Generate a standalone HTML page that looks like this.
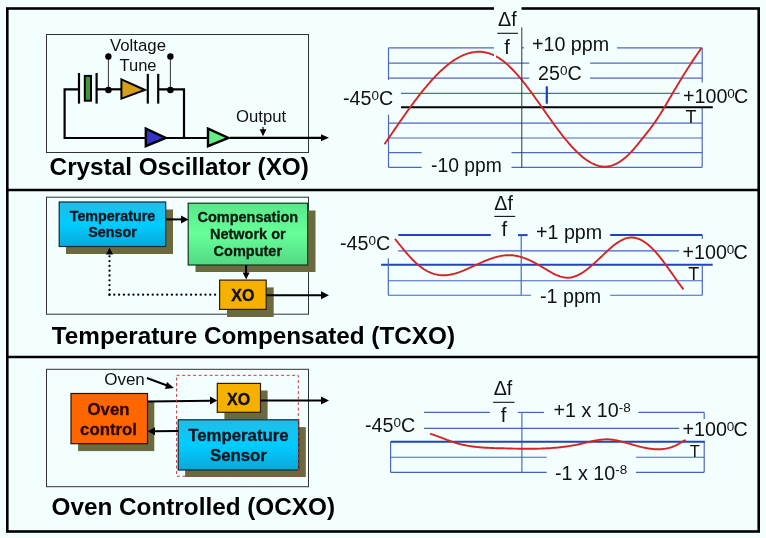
<!DOCTYPE html>
<html><head><meta charset="utf-8">
<style>
html,body{margin:0;padding:0;background:#f3ffff;}
svg{display:block;will-change:transform;}
text{font-family:"Liberation Sans",sans-serif;}
</style></head>
<body>
<svg width="766" height="538" viewBox="0 0 766 538">
<defs>
  <linearGradient id="gCyan" x1="0" y1="0" x2="0" y2="1">
    <stop offset="0" stop-color="#22bce6"/><stop offset="0.5" stop-color="#00ccff"/><stop offset="1" stop-color="#0aa8d8"/>
  </linearGradient>
  <linearGradient id="gGreen" x1="0" y1="0" x2="0" y2="1">
    <stop offset="0" stop-color="#5ae68a"/><stop offset="0.5" stop-color="#66ff99"/><stop offset="1" stop-color="#52d884"/>
  </linearGradient>
  <marker id="ah" viewBox="0 0 10 10" refX="10" refY="5" markerWidth="4" markerHeight="4" orient="auto"><path d="M0,0 L10,5 L0,10 z" fill="#000"/></marker>
</defs>
<rect x="0" y="0" width="766" height="538" fill="#f3ffff"/>
<!-- outer frame -->
<rect x="7.3" y="8.5" width="751.4" height="523" fill="none" stroke="#000" stroke-width="2.6"/>
<line x1="6" y1="190" x2="760" y2="190" stroke="#000" stroke-width="2.4"/>
<line x1="6" y1="357" x2="760" y2="357" stroke="#000" stroke-width="2.4"/>

<!-- ============ PANEL 1 ============ -->
<rect x="46.5" y="34.5" width="262" height="118" fill="none" stroke="#333" stroke-width="1"/>
<text x="110" y="51" font-size="16.8" fill="#111">Voltage</text>
<text x="119.5" y="70.5" font-size="16.5" fill="#111">Tune</text>
<g stroke="#000" stroke-width="2.2" fill="none">
  <polyline points="79,89.3 64.6,89.3 64.6,138 145,138"/>
  <line x1="79" y1="73" x2="79" y2="103.6"/>
  <line x1="96.6" y1="73" x2="96.6" y2="103.6"/>
  <line x1="96.6" y1="89.3" x2="121" y2="89.3"/>
  <line x1="147.8" y1="73.9" x2="147.8" y2="103.6"/>
  <line x1="158.2" y1="73.9" x2="158.2" y2="103.6"/>
  <polyline points="158.2,89.3 184,89.3 184,138"/><line x1="165" y1="138" x2="208" y2="138"/>
  <line x1="230" y1="137.8" x2="322" y2="137.8"/>
</g>
<path d="M321,134.3 L329,137.8 L321,141.3 z" fill="#000"/>
<rect x="84.8" y="75.9" width="6.2" height="24.8" fill="#3a9a3a" stroke="#000" stroke-width="2"/>
<path d="M121.4,79.4 L145,90 L121.4,98.6 z" fill="#d69e1a" stroke="#000" stroke-width="2"/>
<line x1="108.4" y1="56.5" x2="108.4" y2="90" stroke="#333" stroke-width="1"/>
<line x1="170.4" y1="56.5" x2="170.4" y2="90" stroke="#333" stroke-width="1"/>
<circle cx="108.4" cy="56.5" r="3.2" fill="#000"/>
<circle cx="170.4" cy="56.5" r="3.2" fill="#000"/>
<circle cx="108.4" cy="90" r="3.3" fill="#000"/>
<circle cx="170.4" cy="90" r="3.3" fill="#000"/>
<path d="M145.8,128.7 L165.8,137.9 L145.8,146.2 z" fill="#3333cc" stroke="#000" stroke-width="2.4"/>
<path d="M208,128.7 L228.4,137.9 L208,146.2 z" fill="#66ee88" stroke="#000" stroke-width="2.4"/>
<text x="236" y="121.8" font-size="16.7" fill="#111">Output</text>
<line x1="263" y1="127" x2="263" y2="130" stroke="#000" stroke-width="1.2"/>
<path d="M259.6,129.2 L266.4,129.2 L263,136.2 z" fill="#000"/>
<text x="49.6" y="175" font-size="24.3" font-weight="bold" fill="#000">Crystal Oscillator (XO)</text>

<!-- graph 1 -->
<g stroke="#5068b8" stroke-width="1.2" fill="none">
  <line x1="388.5" y1="47.8" x2="494" y2="47.8"/>
  <line x1="521.8" y1="47.8" x2="524" y2="47.8"/>
  <line x1="617" y1="47.8" x2="702.2" y2="47.8"/>
  <line x1="388.5" y1="63.1" x2="529.3" y2="63.1"/>
  <line x1="590" y1="63.1" x2="702.2" y2="63.1"/>
  <line x1="388.5" y1="78.1" x2="529.3" y2="78.1"/>
  <line x1="590" y1="78.1" x2="702.2" y2="78.1"/>
  <line x1="401" y1="93.3" x2="679.7" y2="93.3"/>
  <line x1="388.5" y1="123.1" x2="702.2" y2="123.1"/>
  <line x1="388.5" y1="138" x2="702.2" y2="138"/>
  <line x1="388.5" y1="152.6" x2="421.7" y2="152.6"/>
  <line x1="511.5" y1="152.6" x2="702.2" y2="152.6"/>
  <line x1="388.5" y1="167.3" x2="421.7" y2="167.3"/>
  <line x1="511.5" y1="167.3" x2="702.2" y2="167.3"/>
  <line x1="388.5" y1="47.8" x2="388.5" y2="79.9"/>
  <line x1="388.5" y1="114.7" x2="388.5" y2="167.3"/>
  <line x1="702.2" y1="47.8" x2="702.2" y2="82.6"/>
  <line x1="702.2" y1="107.3" x2="702.2" y2="167.3"/>
</g>
<line x1="401" y1="107.3" x2="712.8" y2="107.3" stroke="#000" stroke-width="2"/>
<line x1="546.8" y1="86.3" x2="546.8" y2="103.7" stroke="#1a3fc0" stroke-width="2.2"/>
<path d="M384.5,144.3 L385.5,142.8 L386.5,141.3 L387.5,139.9 L388.5,138.4 L389.5,136.9 L390.5,135.4 L391.5,134.0 L392.5,132.5 L393.5,131.1 L394.5,129.6 L395.5,128.1 L396.5,126.7 L397.5,125.2 L398.5,123.8 L399.5,122.3 L400.5,120.9 L401.5,119.5 L402.5,118.0 L403.5,116.6 L404.5,115.2 L405.5,113.8 L406.5,112.4 L407.5,111.0 L408.5,109.6 L409.5,108.2 L410.5,106.8 L411.5,105.5 L412.5,104.1 L413.5,102.8 L414.5,101.4 L415.5,100.1 L416.5,98.8 L417.5,97.5 L418.5,96.2 L419.5,94.9 L420.5,93.6 L421.5,92.4 L422.5,91.1 L423.5,89.9 L424.5,88.7 L425.5,87.5 L426.5,86.3 L427.5,85.1 L428.5,83.9 L429.5,82.8 L430.5,81.6 L431.5,80.5 L432.5,79.4 L433.5,78.3 L434.5,77.3 L435.5,76.2 L436.5,75.2 L437.5,74.2 L438.5,73.2 L439.5,72.2 L440.5,71.2 L441.5,70.3 L442.5,69.4 L443.5,68.4 L444.5,67.6 L445.5,66.7 L446.5,65.9 L447.5,65.0 L448.5,64.2 L449.5,63.5 L450.5,62.7 L451.5,62.0 L452.5,61.3 L453.5,60.6 L454.5,59.9 L455.5,59.3 L456.5,58.7 L457.5,58.1 L458.5,57.5 L459.5,57.0 L460.5,56.5 L461.5,56.0 L462.5,55.5 L463.5,55.1 L464.5,54.7 L465.5,54.3 L466.5,53.9 L467.5,53.6 L468.5,53.3 L469.5,53.0 L470.5,52.8 L471.5,52.5 L472.5,52.4 L473.5,52.2 L474.5,52.1 L475.5,51.9 L476.5,51.9 L477.5,51.8 L478.5,51.8 L479.5,51.8 L480.5,51.8 L481.5,51.9 L482.5,52.0 L483.5,52.1 L484.5,52.3 L485.5,52.5 L486.5,52.7 L487.5,52.9 L488.5,53.2 L489.5,53.5 L490.5,53.9 L491.5,54.2 L492.5,54.6 L493.5,55.1 L494.5,55.5 L495.5,56.1 L496.5,56.6 L497.5,57.2 L498.5,57.8 L499.5,58.4 L500.5,59.1 L501.5,59.8 L502.5,60.5 L503.5,61.3 L504.5,62.1 L505.5,62.9 L506.5,63.8 L507.5,64.6 L508.5,65.6 L509.5,66.5 L510.5,67.5 L511.5,68.5 L512.5,69.5 L513.5,70.5 L514.5,71.6 L515.5,72.7 L516.5,73.8 L517.5,74.9 L518.5,76.1 L519.5,77.3 L520.5,78.5 L521.5,79.7 L522.5,80.9 L523.5,82.2 L524.5,83.4 L525.5,84.7 L526.5,86.0 L527.5,87.3 L528.5,88.6 L529.5,90.0 L530.5,91.3 L531.5,92.7 L532.5,94.0 L533.5,95.4 L534.5,96.8 L535.5,98.2 L536.5,99.6 L537.5,101.0 L538.5,102.4 L539.5,103.8 L540.5,105.3 L541.5,106.7 L542.5,108.1 L543.5,109.5 L544.5,110.9 L545.5,112.4 L546.5,113.8 L547.5,115.2 L548.5,116.6 L549.5,118.0 L550.5,119.4 L551.5,120.8 L552.5,122.2 L553.5,123.6 L554.5,125.0 L555.5,126.3 L556.5,127.7 L557.5,129.0 L558.5,130.4 L559.5,131.7 L560.5,133.0 L561.5,134.3 L562.5,135.6 L563.5,136.8 L564.5,138.1 L565.5,139.3 L566.5,140.5 L567.5,141.7 L568.5,142.9 L569.5,144.0 L570.5,145.1 L571.5,146.3 L572.5,147.4 L573.5,148.4 L574.5,149.5 L575.5,150.5 L576.5,151.5 L577.5,152.5 L578.5,153.4 L579.5,154.3 L580.5,155.2 L581.5,156.1 L582.5,156.9 L583.5,157.7 L584.5,158.5 L585.5,159.2 L586.5,160.0 L587.5,160.6 L588.5,161.3 L589.5,161.9 L590.5,162.5 L591.5,163.0 L592.5,163.5 L593.5,164.0 L594.5,164.4 L595.5,164.8 L596.5,165.2 L597.5,165.5 L598.5,165.8 L599.5,166.1 L600.5,166.3 L601.5,166.4 L602.5,166.5 L603.5,166.6 L604.5,166.6 L605.5,166.6 L606.5,166.6 L607.5,166.4 L608.5,166.3 L609.5,166.1 L610.5,165.9 L611.5,165.6 L612.5,165.3 L613.5,164.9 L614.5,164.5 L615.5,164.1 L616.5,163.6 L617.5,163.1 L618.5,162.5 L619.5,161.9 L620.5,161.3 L621.5,160.6 L622.5,159.8 L623.5,159.1 L624.5,158.3 L625.5,157.4 L626.5,156.6 L627.5,155.6 L628.5,154.7 L629.5,153.7 L630.5,152.7 L631.5,151.6 L632.5,150.5 L633.5,149.4 L634.5,148.2 L635.5,147.0 L636.5,145.8 L637.5,144.6 L638.5,143.3 L639.5,142.1 L640.5,140.9 L641.5,139.6 L642.5,138.3 L643.5,137.1 L644.5,135.9 L645.5,134.6 L646.5,133.4 L647.5,132.1 L648.5,130.8 L649.5,129.6 L650.5,128.3 L651.5,126.9 L652.5,125.6 L653.5,124.2 L654.5,122.8 L655.5,121.4 L656.5,119.9 L657.5,118.4 L658.5,116.8 L659.5,115.3 L660.5,113.7 L661.5,112.0 L662.5,110.4 L663.5,108.8 L664.5,107.1 L665.5,105.4 L666.5,103.7 L667.5,102.0 L668.5,100.3 L669.5,98.6 L670.5,96.9 L671.5,95.2 L672.5,93.5 L673.5,91.8 L674.5,90.1 L675.5,88.4 L676.5,86.7 L677.5,85.1 L678.5,83.4 L679.5,81.7 L680.5,80.1 L681.5,78.5 L682.5,76.8 L683.5,75.2 L684.5,73.6 L685.5,72.0 L686.5,70.4 L687.5,68.8 L688.5,67.3 L689.5,65.7 L690.5,64.2 L691.5,62.6 L692.5,61.1 L693.5,59.6 L694.5,58.1 L695.5,56.6 L696.5,55.2 L697.5,53.7 L698.5,52.3 L699.5,50.9 L700.5,49.5 L701.5,48.1" fill="none" stroke="#d42424" stroke-width="1.9" stroke-linejoin="round"/>
<rect x="494" y="52" width="2" height="7" fill="#f3ffff"/>
<rect x="494" y="5" width="27.5" height="49" fill="#f3ffff"/>
<line x1="521.8" y1="27.3" x2="521.8" y2="168" stroke="#333" stroke-width="1"/>
<line x1="497.3" y1="33.3" x2="518" y2="33.3" stroke="#111" stroke-width="1.1"/>
<text x="498" y="25.7" font-size="19.7" fill="#111">Δf</text>
<text x="504.3" y="53.6" font-size="20.3" fill="#111">f</text>
<text x="532" y="50.5" font-size="19.7" fill="#111">+10 ppm</text>
<text x="538" y="80" font-size="19.7" fill="#111">25<tspan font-size="13.5" dy="-5.2">0</tspan><tspan dy="5.2">C</tspan></text>
<text x="343" y="105.2" font-size="19.7" fill="#111">-45<tspan font-size="13.5" dy="-5.2">0</tspan><tspan dy="5.2">C</tspan></text>
<text x="683" y="102.7" font-size="19.7" fill="#111">+100<tspan font-size="13.5" dy="-5.2">0</tspan><tspan dy="5.2" dx="-1">C</tspan></text>
<text x="685.5" y="122.6" font-size="18" fill="#111">T</text>
<text x="431" y="172.2" font-size="19.3" fill="#111">-10 ppm</text>

<!-- ============ PANEL 2 ============ -->
<rect x="46.5" y="197.2" width="262" height="117" fill="none" stroke="#333" stroke-width="1"/>
<rect x="66" y="209.5" width="107" height="44.5" fill="#6b6a3e"/>
<rect x="59.2" y="202" width="106.5" height="44.5" fill="url(#gCyan)" stroke="#0b2a3a" stroke-width="1.2"/>
<text x="112.5" y="221" font-size="14.3" font-weight="bold" fill="#0a1520" stroke="#0a1520" stroke-width="0.3" text-anchor="middle">Temperature</text>
<text x="112.5" y="237.4" font-size="14.3" font-weight="bold" fill="#0a1520" stroke="#0a1520" stroke-width="0.3" text-anchor="middle">Sensor</text>
<rect x="195.5" y="210.5" width="120" height="61.5" fill="#6b6a3e"/>
<rect x="188.2" y="203.2" width="119.4" height="61.8" fill="url(#gGreen)" stroke="#0b3a1a" stroke-width="1.2"/>
<text x="247.8" y="222" font-size="14.5" font-weight="bold" fill="#0a1a10" stroke="#0a1a10" stroke-width="0.3" text-anchor="middle">Compensation</text>
<text x="247.8" y="238.9" font-size="14.5" font-weight="bold" fill="#0a1a10" stroke="#0a1a10" stroke-width="0.3" text-anchor="middle">Network or</text>
<text x="247.8" y="256.2" font-size="14.5" font-weight="bold" fill="#0a1a10" stroke="#0a1a10" stroke-width="0.3" text-anchor="middle">Computer</text>
<line x1="165.7" y1="219.4" x2="182" y2="219.4" stroke="#000" stroke-width="2"/>
<path d="M181,215.4 L188.5,219.4 L181,223.4 z" fill="#000"/>
<line x1="246.1" y1="265" x2="246.1" y2="273" stroke="#000" stroke-width="2"/>
<path d="M242.6,272.5 L249.6,272.5 L246.1,279.5 z" fill="#000"/>
<rect x="227" y="287.4" width="46.7" height="29.6" fill="#6b6a3e"/>
<rect x="219.6" y="280.1" width="46.6" height="29.3" fill="#f5b000" stroke="#2a2000" stroke-width="1.2"/>
<text x="242.8" y="301.1" font-size="16" font-weight="bold" fill="#111" stroke="#111" stroke-width="0.35" text-anchor="middle">XO</text>
<line x1="266.2" y1="295.3" x2="322" y2="295.3" stroke="#000" stroke-width="2"/>
<path d="M321,291.3 L329,295.3 L321,299.3 z" fill="#000"/>
<g stroke="#000" stroke-width="2.3" stroke-linecap="round" stroke-dasharray="0,4.8" fill="none"><line x1="109.5" y1="294.7" x2="218" y2="294.7"/><line x1="109.5" y1="294.7" x2="109.5" y2="256"/></g>
<path d="M106,254.6 L113,254.6 L109.5,247.8 z" fill="#000"/>
<text x="51.8" y="343.9" font-size="24.3" font-weight="bold" fill="#000">Temperature Compensated (TCXO)</text>

<!-- graph 2 -->
<g stroke="#2244b8" stroke-width="2" fill="none">
  <line x1="398.3" y1="235.1" x2="490.8" y2="235.1"/>
  <line x1="518" y1="235.1" x2="527.6" y2="235.1"/>
  <line x1="610.2" y1="235.1" x2="702.3" y2="235.1"/>
  <line x1="381.1" y1="264.7" x2="712.7" y2="264.7"/>
</g>
<g stroke="#4462c0" stroke-width="1.15" fill="none">
  <line x1="398.3" y1="250.9" x2="679.1" y2="250.9"/>
  <line x1="388.3" y1="280.7" x2="702.3" y2="280.7"/>
  <line x1="388.3" y1="295.2" x2="531" y2="295.2"/>
  <line x1="610.2" y1="295.2" x2="702.3" y2="295.2"/>
  <line x1="388.3" y1="258.5" x2="388.3" y2="295.2"/>
  <line x1="702.3" y1="235.1" x2="702.3" y2="239"/>
  <line x1="702.3" y1="264.7" x2="702.3" y2="295.2"/>
  <line x1="521.2" y1="235.1" x2="521.2" y2="295.2"/>
</g>
<path d="M394.9,238.8 L395.9,240.0 L396.9,241.3 L397.9,242.5 L398.9,243.8 L399.9,245.0 L400.9,246.2 L401.9,247.5 L402.9,248.7 L403.9,249.9 L404.9,251.1 L405.9,252.3 L406.9,253.4 L407.9,254.6 L408.9,255.7 L409.9,256.8 L410.9,257.9 L411.9,259.0 L412.9,260.0 L413.9,261.0 L414.9,262.0 L415.9,262.9 L416.9,263.8 L417.9,264.7 L418.9,265.5 L419.9,266.3 L420.9,267.1 L421.9,267.8 L422.9,268.5 L423.9,269.2 L424.9,269.8 L425.9,270.4 L426.9,271.0 L427.9,271.5 L428.9,272.0 L429.9,272.4 L430.9,272.8 L431.9,273.2 L432.9,273.6 L433.9,273.9 L434.9,274.2 L435.9,274.4 L436.9,274.6 L437.9,274.8 L438.9,275.0 L439.9,275.1 L440.9,275.2 L441.9,275.3 L442.9,275.3 L443.9,275.3 L444.9,275.3 L445.9,275.2 L446.9,275.1 L447.9,275.0 L448.9,274.9 L449.9,274.7 L450.9,274.5 L451.9,274.3 L452.9,274.1 L453.9,273.8 L454.9,273.6 L455.9,273.3 L456.9,273.0 L457.9,272.6 L458.9,272.3 L459.9,271.9 L460.9,271.6 L461.9,271.2 L462.9,270.8 L463.9,270.4 L464.9,269.9 L465.9,269.5 L466.9,269.1 L467.9,268.6 L468.9,268.2 L469.9,267.7 L470.9,267.3 L471.9,266.8 L472.9,266.4 L473.9,265.9 L474.9,265.4 L475.9,265.0 L476.9,264.5 L477.9,264.1 L478.9,263.6 L479.9,263.2 L480.9,262.7 L481.9,262.3 L482.9,261.8 L483.9,261.4 L484.9,261.0 L485.9,260.6 L486.9,260.2 L487.9,259.8 L488.9,259.4 L489.9,259.0 L490.9,258.7 L491.9,258.3 L492.9,258.0 L493.9,257.7 L494.9,257.4 L495.9,257.1 L496.9,256.8 L497.9,256.6 L498.9,256.4 L499.9,256.1 L500.9,255.9 L501.9,255.8 L502.9,255.6 L503.9,255.5 L504.9,255.4 L505.9,255.3 L506.9,255.2 L507.9,255.2 L508.9,255.2 L509.9,255.2 L510.9,255.2 L511.9,255.3 L512.9,255.3 L513.9,255.5 L514.9,255.6 L515.9,255.8 L516.9,256.0 L517.9,256.2 L518.9,256.4 L519.9,256.7 L520.9,256.9 L521.9,257.2 L522.9,257.6 L523.9,257.9 L524.9,258.3 L525.9,258.7 L526.9,259.1 L527.9,259.5 L528.9,259.9 L529.9,260.4 L530.9,260.8 L531.9,261.3 L532.9,261.8 L533.9,262.3 L534.9,262.9 L535.9,263.4 L536.9,264.0 L537.9,264.5 L538.9,265.1 L539.9,265.7 L540.9,266.3 L541.9,266.9 L542.9,267.5 L543.9,268.1 L544.9,268.7 L545.9,269.3 L546.9,269.9 L547.9,270.5 L548.9,271.1 L549.9,271.7 L550.9,272.2 L551.9,272.8 L552.9,273.3 L553.9,273.8 L554.9,274.3 L555.9,274.8 L556.9,275.2 L557.9,275.6 L558.9,276.0 L559.9,276.4 L560.9,276.7 L561.9,276.9 L562.9,277.2 L563.9,277.4 L564.9,277.5 L565.9,277.6 L566.9,277.7 L567.9,277.7 L568.9,277.7 L569.9,277.6 L570.9,277.5 L571.9,277.3 L572.9,277.0 L573.9,276.7 L574.9,276.4 L575.9,276.0 L576.9,275.6 L577.9,275.2 L578.9,274.7 L579.9,274.2 L580.9,273.6 L581.9,273.0 L582.9,272.4 L583.9,271.7 L584.9,271.0 L585.9,270.3 L586.9,269.5 L587.9,268.7 L588.9,267.9 L589.9,267.1 L590.9,266.3 L591.9,265.4 L592.9,264.5 L593.9,263.6 L594.9,262.7 L595.9,261.8 L596.9,260.8 L597.9,259.9 L598.9,258.9 L599.9,258.0 L600.9,257.0 L601.9,256.1 L602.9,255.1 L603.9,254.2 L604.9,253.2 L605.9,252.3 L606.9,251.4 L607.9,250.4 L608.9,249.5 L609.9,248.7 L610.9,247.8 L611.9,246.9 L612.9,246.1 L613.9,245.3 L614.9,244.5 L615.9,243.8 L616.9,243.1 L617.9,242.4 L618.9,241.8 L619.9,241.2 L620.9,240.6 L621.9,240.1 L622.9,239.6 L623.9,239.1 L624.9,238.7 L625.9,238.4 L626.9,238.1 L627.9,237.9 L628.9,237.7 L629.9,237.6 L630.9,237.5 L631.9,237.5 L632.9,237.5 L633.9,237.7 L634.9,237.8 L635.9,238.0 L636.9,238.3 L637.9,238.6 L638.9,239.0 L639.9,239.4 L640.9,239.9 L641.9,240.4 L642.9,241.0 L643.9,241.6 L644.9,242.3 L645.9,243.0 L646.9,243.7 L647.9,244.5 L648.9,245.4 L649.9,246.2 L650.9,247.2 L651.9,248.1 L652.9,249.1 L653.9,250.1 L654.9,251.2 L655.9,252.3 L656.9,253.5 L657.9,254.6 L658.9,255.8 L659.9,257.1 L660.9,258.3 L661.9,259.6 L662.9,260.9 L663.9,262.3 L664.9,263.6 L665.9,265.0 L666.9,266.4 L667.9,267.7 L668.9,269.2 L669.9,270.6 L670.9,272.0 L671.9,273.4 L672.9,274.8 L673.9,276.3 L674.9,277.7 L675.9,279.1 L676.9,280.5 L677.9,281.9 L678.9,283.3 L679.9,284.6 L680.9,286.0 L681.9,287.3 L682.9,288.6 L683.5,289.4" fill="none" stroke="#d42424" stroke-width="1.9" stroke-linejoin="round"/>
<line x1="494.3" y1="216.4" x2="515.2" y2="216.4" stroke="#111" stroke-width="1.1"/>
<text x="494.3" y="209.5" font-size="19.7" fill="#111">Δf</text>
<text x="501.5" y="236" font-size="20.3" fill="#111">f</text>
<text x="536" y="238.6" font-size="19.7" fill="#111">+1 ppm</text>
<text x="340" y="250.3" font-size="19.7" fill="#111">-45<tspan font-size="13.5" dy="-5.2">0</tspan><tspan dy="5.2">C</tspan></text>
<text x="682.5" y="258.8" font-size="19.7" fill="#111">+100<tspan font-size="13.5" dy="-5.2">0</tspan><tspan dy="5.2" dx="-1">C</tspan></text>
<text x="688.3" y="280.2" font-size="18" fill="#111">T</text>
<text x="540" y="303.3" font-size="19.7" fill="#111">-1 ppm</text>

<!-- ============ PANEL 3 ============ -->
<rect x="46.5" y="369.3" width="262" height="117.4" fill="none" stroke="#333" stroke-width="1"/>
<rect x="78.1" y="401" width="76.2" height="50.1" fill="#6b6a3e"/>
<rect x="71" y="393.5" width="76.5" height="50.2" fill="#ff6600" stroke="#2a1000" stroke-width="1.2"/>
<text x="108.5" y="414.8" font-size="16.8" font-weight="bold" fill="#2a0a00" stroke="#2a0a00" stroke-width="0.3" text-anchor="middle">Oven</text>
<text x="108.5" y="435" font-size="16.8" font-weight="bold" fill="#2a0a00" stroke="#2a0a00" stroke-width="0.3" text-anchor="middle">control</text>
<text x="104.2" y="385.2" font-size="17" fill="#111">Oven</text>
<line x1="146.9" y1="378" x2="169" y2="386.3" stroke="#000" stroke-width="2"/>
<path d="M167,382 L174,388 L165,389 z" fill="#000"/>
<line x1="147.5" y1="401.5" x2="211" y2="400.7" stroke="#000" stroke-width="2"/>
<path d="M210,396.5 L217.3,400.5 L210,404.5 z" fill="#000"/>
<rect x="224.4" y="390.5" width="43.2" height="29" fill="#6b6a3e"/>
<rect x="217.3" y="383.4" width="43.2" height="28.9" fill="#f5b000" stroke="#2a2000" stroke-width="1.2"/>
<text x="238.6" y="404.5" font-size="16" font-weight="bold" fill="#111" stroke="#111" stroke-width="0.35" text-anchor="middle">XO</text>
<line x1="260.5" y1="400.5" x2="322" y2="400.5" stroke="#000" stroke-width="2"/>
<path d="M321,396.5 L329,400.5 L321,404.5 z" fill="#000"/>
<rect x="185.1" y="427.1" width="120.7" height="49.9" fill="#6b6a3e"/>
<rect x="178.2" y="419.8" width="120.5" height="50.2" fill="url(#gCyan)" stroke="#0b2a3a" stroke-width="1.2"/>
<text x="238.4" y="441.1" font-size="16.8" font-weight="bold" fill="#0a1520" stroke="#0a1520" stroke-width="0.3" text-anchor="middle">Temperature</text>
<text x="238.4" y="460.6" font-size="16.8" font-weight="bold" fill="#0a1520" stroke="#0a1520" stroke-width="0.3" text-anchor="middle">Sensor</text>
<line x1="178.2" y1="430.9" x2="154" y2="431.2" stroke="#000" stroke-width="2"/>
<path d="M155,427.2 L147.5,431.2 L155,435.2 z" fill="#000"/>
<rect x="176.6" y="375.3" width="121.7" height="100.9" fill="none" stroke="#c83a3a" stroke-width="1" stroke-dasharray="3,2.5"/>
<text x="51.5" y="514.8" font-size="24.3" font-weight="bold" fill="#000">Oven Controlled (OCXO)</text>

<!-- graph 3 -->
<g stroke="#4462c0" stroke-width="1.15" fill="none">
  <line x1="424" y1="412.4" x2="489.8" y2="412.4"/>
  <line x1="517.8" y1="412.4" x2="544" y2="412.4"/>
  <line x1="638.4" y1="412.4" x2="704.2" y2="412.4"/>
  <line x1="424" y1="428.4" x2="679.1" y2="428.4"/>
  <line x1="390.6" y1="457.2" x2="546.7" y2="457.2"/>
  <line x1="635.9" y1="457.2" x2="704.2" y2="457.2"/>
  <line x1="390.6" y1="472.3" x2="546.7" y2="472.3"/>
  <line x1="635.9" y1="472.3" x2="704.2" y2="472.3"/>
  <line x1="390.6" y1="441.8" x2="390.6" y2="472.3"/>
  <line x1="704.2" y1="412.4" x2="704.2" y2="419"/>
  <line x1="704.2" y1="441.8" x2="704.2" y2="472.3"/>
  <line x1="521.9" y1="412.4" x2="521.9" y2="472.3"/>
</g>
<line x1="390.6" y1="441.8" x2="704.8" y2="441.8" stroke="#2244b8" stroke-width="2"/>
<path d="M430.0,433.8 L431.0,434.1 L432.0,434.4 L433.0,434.7 L434.0,435.0 L435.0,435.4 L436.0,435.7 L437.0,436.1 L438.0,436.4 L439.0,436.8 L440.0,437.2 L441.0,437.5 L442.0,437.9 L443.0,438.3 L444.0,438.7 L445.0,439.1 L446.0,439.5 L447.0,439.9 L448.0,440.2 L449.0,440.6 L450.0,441.0 L451.0,441.3 L452.0,441.7 L453.0,442.0 L454.0,442.4 L455.0,442.7 L456.0,443.0 L457.0,443.3 L458.0,443.5 L459.0,443.8 L460.0,444.1 L461.0,444.3 L462.0,444.6 L463.0,444.8 L464.0,445.0 L465.0,445.2 L466.0,445.4 L467.0,445.6 L468.0,445.8 L469.0,445.9 L470.0,446.1 L471.0,446.2 L472.0,446.4 L473.0,446.5 L474.0,446.7 L475.0,446.8 L476.0,446.9 L477.0,447.0 L478.0,447.1 L479.0,447.2 L480.0,447.3 L481.0,447.4 L482.0,447.5 L483.0,447.5 L484.0,447.6 L485.0,447.7 L486.0,447.7 L487.0,447.8 L488.0,447.8 L489.0,447.9 L490.0,447.9 L491.0,448.0 L492.0,448.0 L493.0,448.0 L494.0,448.1 L495.0,448.1 L496.0,448.1 L497.0,448.2 L498.0,448.2 L499.0,448.2 L500.0,448.2 L501.0,448.3 L502.0,448.3 L503.0,448.3 L504.0,448.3 L505.0,448.4 L506.0,448.4 L507.0,448.4 L508.0,448.5 L509.0,448.5 L510.0,448.5 L511.0,448.5 L512.0,448.5 L513.0,448.6 L514.0,448.6 L515.0,448.6 L516.0,448.6 L517.0,448.6 L518.0,448.7 L519.0,448.7 L520.0,448.7 L521.0,448.7 L522.0,448.7 L523.0,448.7 L524.0,448.7 L525.0,448.8 L526.0,448.8 L527.0,448.8 L528.0,448.8 L529.0,448.8 L530.0,448.8 L531.0,448.8 L532.0,448.7 L533.0,448.7 L534.0,448.7 L535.0,448.7 L536.0,448.7 L537.0,448.7 L538.0,448.7 L539.0,448.6 L540.0,448.6 L541.0,448.6 L542.0,448.5 L543.0,448.5 L544.0,448.5 L545.0,448.4 L546.0,448.4 L547.0,448.3 L548.0,448.3 L549.0,448.2 L550.0,448.1 L551.0,448.1 L552.0,448.0 L553.0,447.9 L554.0,447.8 L555.0,447.8 L556.0,447.7 L557.0,447.6 L558.0,447.5 L559.0,447.4 L560.0,447.3 L561.0,447.2 L562.0,447.0 L563.0,446.9 L564.0,446.8 L565.0,446.7 L566.0,446.5 L567.0,446.4 L568.0,446.2 L569.0,446.1 L570.0,445.9 L571.0,445.8 L572.0,445.6 L573.0,445.4 L574.0,445.2 L575.0,445.1 L576.0,444.9 L577.0,444.7 L578.0,444.5 L579.0,444.3 L580.0,444.0 L581.0,443.8 L582.0,443.6 L583.0,443.3 L584.0,443.1 L585.0,442.9 L586.0,442.6 L587.0,442.4 L588.0,442.2 L589.0,441.9 L590.0,441.7 L591.0,441.5 L592.0,441.2 L593.0,441.0 L594.0,440.8 L595.0,440.6 L596.0,440.4 L597.0,440.2 L598.0,440.1 L599.0,439.9 L600.0,439.8 L601.0,439.7 L602.0,439.6 L603.0,439.5 L604.0,439.4 L605.0,439.4 L606.0,439.3 L607.0,439.3 L608.0,439.3 L609.0,439.4 L610.0,439.4 L611.0,439.5 L612.0,439.7 L613.0,439.8 L614.0,439.9 L615.0,440.1 L616.0,440.3 L617.0,440.5 L618.0,440.7 L619.0,440.9 L620.0,441.2 L621.0,441.4 L622.0,441.7 L623.0,442.0 L624.0,442.2 L625.0,442.5 L626.0,442.8 L627.0,443.1 L628.0,443.4 L629.0,443.6 L630.0,443.9 L631.0,444.2 L632.0,444.5 L633.0,444.8 L634.0,445.1 L635.0,445.3 L636.0,445.6 L637.0,445.9 L638.0,446.2 L639.0,446.4 L640.0,446.7 L641.0,446.9 L642.0,447.2 L643.0,447.4 L644.0,447.6 L645.0,447.8 L646.0,448.0 L647.0,448.2 L648.0,448.4 L649.0,448.5 L650.0,448.7 L651.0,448.8 L652.0,448.9 L653.0,449.0 L654.0,449.1 L655.0,449.2 L656.0,449.2 L657.0,449.3 L658.0,449.3 L659.0,449.3 L660.0,449.2 L661.0,449.2 L662.0,449.1 L663.0,449.0 L664.0,448.9 L665.0,448.8 L666.0,448.6 L667.0,448.4 L668.0,448.2 L669.0,447.9 L670.0,447.6 L671.0,447.3 L672.0,447.0 L673.0,446.6 L674.0,446.2 L675.0,445.8 L676.0,445.3 L677.0,444.8 L678.0,444.3 L679.0,443.7 L680.0,443.1 L681.0,442.5 L682.0,441.8 L683.0,441.2 L684.0,440.7 L685.0,440.4 L685.8,440.2" fill="none" stroke="#d42424" stroke-width="1.9" stroke-linejoin="round"/>
<line x1="493.1" y1="402.3" x2="514.5" y2="402.3" stroke="#111" stroke-width="1.1"/>
<text x="493.7" y="394.7" font-size="19.7" fill="#111">Δf</text>
<text x="500.8" y="422.1" font-size="20.3" fill="#111">f</text>
<text x="553.5" y="417" font-size="19.7" fill="#111">+1 x 10<tspan font-size="13.5" dy="-5.2">-8</tspan></text>
<text x="365" y="431.7" font-size="19.7" fill="#111">-45<tspan font-size="13.5" dy="-5.2">0</tspan><tspan dy="5.2">C</tspan></text>
<text x="682.5" y="436.4" font-size="19.7" fill="#111">+100<tspan font-size="13.5" dy="-5.2">0</tspan><tspan dy="5.2" dx="-1">C</tspan></text>
<text x="689.8" y="456.9" font-size="16.5" fill="#111">T</text>
<text x="555" y="479.6" font-size="19.7" fill="#111">-1 x 10<tspan font-size="13.5" dy="-5.2">-8</tspan></text>
</svg>
</body></html>
